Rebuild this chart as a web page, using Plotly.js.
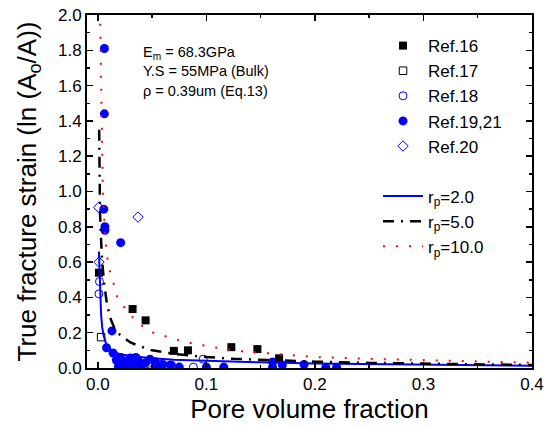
<!DOCTYPE html>
<html>
<head>
<meta charset="utf-8">
<script src="https://cdn.plot.ly/plotly-3.0.1.min.js"></script>
<style>html,body{margin:0;padding:0;background:#fff;}#chart{width:554px;height:428px;}</style>
</head>
<body>
<div id="chart"></div>
<script>
// ---- data ----
const ref16X = [0.001, 0.032, 0.044, 0.070, 0.083, 0.123, 0.147, 0.167];
const ref16Y = [0.54, 0.334, 0.27, 0.097, 0.10, 0.118, 0.107, 0.055];

const ref17X = [0.003];
const ref17Y = [0.175];

const ref18X = [0.0015, 0.001, 0.046, 0.058, 0.068, 0.088, 0.097];
const ref18Y = [0.49, 0.42, 0.025, 0.02, 0.015, 0.005, 0.05];

const ref1921X = [0.006, 0.006, 0.0055, 0.0065, 0.0065, 0.021, 0.013, 0.008,
  0.014, 0.017, 0.021, 0.024, 0.030, 0.033, 0.037, 0.044, 0.053, 0.055, 0.060, 0.067,
  0.075, 0.100, 0.116, 0.161, 0.161, 0.170, 0.190, 0.210, 0.220,
  0.019, 0.027, 0.040, 0.048, 0.026, 0.035];
const ref1921Y = [1.81, 1.44, 0.90, 0.80, 0.78, 0.71, 0.21, 0.115,
  0.085, 0.045, 0.06, 0.03, 0.057, 0.02, 0.045, 0.03, 0.035, 0.005, 0.02, 0.017,
  0.005, 0.005, 0.005, 0.034, 0.005, 0.017, 0.02, 0.003, 0.003,
  0.01, 0.04, 0.01, 0.05, 0.005, 0.06];

const ref20X = [0.0007, 0.001, 0.037];
const ref20Y = [0.91, 0.60, 0.855];

const rp2X = [0.001, 0.0015, 0.002, 0.0025, 0.003, 0.004, 0.0055, 0.008, 0.011, 0.015, 0.02, 0.03, 0.05, 0.07, 0.1, 0.15, 0.2, 0.3, 0.4];
const rp2Y = [0.66, 0.56, 0.45, 0.36, 0.30, 0.23, 0.18, 0.13, 0.105, 0.09, 0.08, 0.068, 0.055, 0.047, 0.04, 0.032, 0.026, 0.018, 0.013];

const rp5X = [0.0012, 0.0015, 0.002, 0.003, 0.004, 0.006, 0.008, 0.011, 0.015, 0.02, 0.025, 0.03, 0.04, 0.05, 0.07, 0.1, 0.125, 0.15, 0.2, 0.25, 0.3, 0.35, 0.4];
const rp5Y = [1.35, 1.1, 0.88, 0.72, 0.6, 0.47, 0.38, 0.29, 0.23, 0.19, 0.165, 0.145, 0.12, 0.1, 0.08, 0.062, 0.052, 0.046, 0.036, 0.029, 0.024, 0.02, 0.017];

const rp10X = [0.0022, 0.0028, 0.0033, 0.0037, 0.0046, 0.0055, 0.0065, 0.008, 0.010, 0.014, 0.018, 0.027, 0.038, 0.051, 0.064, 0.077, 0.09, 0.103, 0.116, 0.129, 0.142, 0.16, 0.2, 0.25, 0.3, 0.35, 0.4];
const rp10Y = [1.95, 1.7, 1.4, 1.15, 1.0, 0.9, 0.76, 0.66, 0.57, 0.49, 0.40, 0.32, 0.25, 0.20, 0.175, 0.153, 0.136, 0.12, 0.108, 0.097, 0.09, 0.082, 0.062, 0.052, 0.045, 0.037, 0.03];

const xTicks = [0, 0.1, 0.2, 0.3, 0.4];
const xTickText = ['0.0', '0.1', '0.2', '0.3', '0.4'];
const yTicks = [0, 0.2, 0.4, 0.6, 0.8, 1.0, 1.2, 1.4, 1.6, 1.8, 2.0];
const yTickText = ['0.0', '0.2', '0.4', '0.6', '0.8', '1.0', '1.2', '1.4', '1.6', '1.8', '2.0'];

const FONT = 'Arial, "Liberation Sans", sans-serif';
const BLUE = '#0000FF';

const traces = [
  {x: ref16X, y: ref16Y, name: 'Ref.16', mode: 'markers', legendgroup: 'a',
   marker: {symbol: 'square', size: 8, color: '#000'}},
  {x: ref17X, y: ref17Y, name: 'Ref.17', mode: 'markers', legendgroup: 'a',
   marker: {symbol: 'square-open', size: 7.5, color: '#000', line: {width: 1}}},
  {x: ref18X, y: ref18Y, name: 'Ref.18', mode: 'markers', legendgroup: 'a',
   marker: {symbol: 'circle-open', size: 8, color: BLUE, line: {width: 1}}},
  {x: ref1921X, y: ref1921Y, name: 'Ref.19,21', mode: 'markers', legendgroup: 'a',
   marker: {symbol: 'circle', size: 9, color: BLUE}},
  {x: ref20X, y: ref20Y, name: 'Ref.20', mode: 'markers', legendgroup: 'a',
   marker: {symbol: 'diamond-open', size: 8, color: BLUE, line: {width: 1}}},
  {x: rp2X, y: rp2Y, name: 'r<sub>p</sub>=2.0', mode: 'lines', legendgroup: 'b',
   line: {color: BLUE, width: 2}},
  {x: rp5X, y: rp5Y, name: 'r<sub>p</sub>=5.0', mode: 'lines', legendgroup: 'b',
   line: {color: '#000', width: 2.5, dash: '11px,7px,2px,7px'}},
  {x: rp10X, y: rp10Y, name: 'r<sub>p</sub>=10.0', mode: 'lines', legendgroup: 'b',
   line: {color: '#FF0000', width: 2, dash: '2px,11px'}}
];

const axisCommon = {
  showline: true, linewidth: 2, linecolor: '#000', mirror: 'ticks',
  ticks: 'inside', ticklen: 6, tickwidth: 1.5, tickcolor: '#000',
  showgrid: false, zeroline: false,
  tickfont: {family: FONT, size: 17, color: '#000'}
};

const layout = {
  width: 554, height: 428,
  margin: {l: 87, r: 22, t: 15, b: 60},
  paper_bgcolor: '#fff', plot_bgcolor: '#fff',
  font: {family: FONT, color: '#000'},
  showlegend: true,
  legend: {
    x: 0.654, y: 0.963, xanchor: 'left', yanchor: 'top',
    bgcolor: 'rgba(0,0,0,0)', borderwidth: 0,
    font: {family: FONT, size: 17, color: '#000'},
    itemwidth: 40, tracegroupgap: 25, traceorder: 'grouped'
  },
  xaxis: Object.assign({}, axisCommon, {
    range: [-0.01, 0.4], tickvals: xTicks, ticktext: xTickText,
    minor: {dtick: 0.05, ticks: 'inside', ticklen: 3, tickcolor: '#000', tickwidth: 1.5},
    title: {text: 'Pore volume fraction', font: {family: FONT, size: 26, color: '#000'}, standoff: 3}
  }),
  yaxis: Object.assign({}, axisCommon, {
    range: [0, 2], tickvals: yTicks, ticktext: yTickText,
    minor: {dtick: 0.1, ticks: 'inside', ticklen: 3, tickcolor: '#000', tickwidth: 1.5},
    title: {text: 'True fracture strain (ln (A<sub>o</sub>/A))', font: {family: FONT, size: 26, color: '#000'}, standoff: 14}
  }),
  annotations: [
    {xref: 'paper', yref: 'paper', x: 0.121, y: 0.893, xanchor: 'left', yanchor: 'middle', showarrow: false,
     text: 'E<sub>m</sub> = 68.3GPa', font: {family: FONT, size: 14.5, color: '#000'}},
    {xref: 'paper', yref: 'paper', x: 0.121, y: 0.840, xanchor: 'left', yanchor: 'middle', showarrow: false,
     text: 'Y.S = 55MPa (Bulk)', font: {family: FONT, size: 14.5, color: '#000'}},
    {xref: 'paper', yref: 'paper', x: 0.121, y: 0.784, xanchor: 'left', yanchor: 'middle', showarrow: false,
     text: 'ρ = 0.39um (Eq.13)', font: {family: FONT, size: 14.5, color: '#000'}}
  ]
};

Plotly.newPlot('chart', traces, layout, {displayModeBar: false, staticPlot: true});
</script>
</body>
</html>
